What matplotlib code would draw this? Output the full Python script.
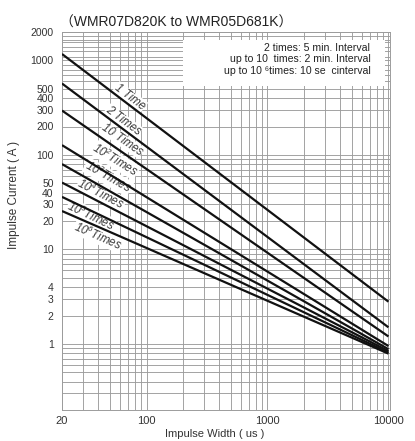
import numpy as np
import matplotlib
matplotlib.use("Agg")
import matplotlib.pyplot as plt
from matplotlib.patches import Rectangle
from matplotlib.ticker import FixedLocator, NullFormatter, FixedFormatter

plt.rcParams['font.family'] = ['Liberation Sans', 'DejaVu Sans', 'Noto Sans CJK SC']

# ---- data ----
width_start = 20
width_end = 10000
series_labels = ['1 Time', '2 Times', '10 Times', r'10$^2$Times', r'10$^3$Times',
                 r'10$^4$Times', r'10$^5$Times', r'10$^6$Times']
current_at_start = [1170, 570, 295, 127, 80, 51, 36, 25.5]
current_at_end = [2.8, 1.5, 1.2, 0.95, 0.88, 0.84, 0.81, 0.79]
label_x = [73, 63.9, 62.7, 54.9, 48.0, 42.1, 34.7, 39.7]
label_y = [410, 229, 144, 88.4, 58.4, 38.6, 22.6, 13.9]

y_major = [1, 2, 3, 4, 10, 20, 30, 40, 50, 100, 200, 300, 400, 500, 1000, 2000]
y_major_labels = ['1', '2', '3', '4', '10', '20', '30', '40', '50', '100',
                  '200', '300', '400', '500', '1000', '2000']
y_minor = [0.3, 0.4, 0.5, 0.6, 0.7, 0.8, 0.9, 5, 6, 7, 8, 9, 60, 70, 80, 90,
           600, 700, 800, 900, 1100, 1250, 1400, 1550, 1650, 1800]
x_major = [20, 100, 1000, 10000]
x_major_labels = ['20', '100', '1000', '10000']
x_minor = [30, 40, 50, 60, 70, 80, 90, 200, 300, 400, 500, 600, 700, 800, 900,
           2000, 3000, 4000, 5000, 6000, 7000, 8000, 9000]

title = '（WMR07D820K to WMR05D681K）'
note_lines = ['2 times: 5 min. Interval',
              'up to 10  times: 2 min. Interval',
              'up to 10 ⁶times: 10 se  cinterval']

# ---- figure ----
plt.rcParams['mathtext.fontset'] = 'custom'
plt.rcParams['mathtext.rm'] = 'Liberation Sans'
plt.rcParams['mathtext.it'] = 'Liberation Sans:italic'
plt.rcParams['mathtext.default'] = 'regular'

fig = plt.figure(figsize=(4.15, 4.41), dpi=100)
ax = fig.add_axes([62/415, 31/441, 328/415, 378/441])
ax.set_xscale('log')
ax.set_yscale('log')
ax.set_xlim(20, 10300)
ax.set_ylim(0.2, 2000)

grid_kw = dict(color='#9c9c9c', linewidth=0.65)
ax.xaxis.set_major_locator(FixedLocator(x_major))
ax.xaxis.set_major_formatter(FixedFormatter(x_major_labels))
ax.xaxis.set_minor_locator(FixedLocator(x_minor))
ax.xaxis.set_minor_formatter(NullFormatter())
ax.yaxis.set_major_locator(FixedLocator(y_major))
ax.yaxis.set_major_formatter(FixedFormatter(y_major_labels))
ax.yaxis.set_minor_locator(FixedLocator(y_minor))
ax.yaxis.set_minor_formatter(NullFormatter())
ax.grid(True, which='both', **grid_kw)
ax.set_axisbelow(True)
ax.tick_params(which='both', length=0)
ax.tick_params(axis='x', labelsize=8, pad=4, labelcolor='#333333')
ax.tick_params(axis='y', labelsize=7.5, pad=6, labelcolor='#333333')
for s in ax.spines.values():
    s.set_color('#9c9c9c')
    s.set_linewidth(0.7)

# note box
ax.add_patch(Rectangle((0.369, 0.857), 0.616, 0.122, transform=ax.transAxes,
                       facecolor='white', edgecolor='none', zorder=1.5))
for i, t in enumerate(note_lines):
    ax.text(0.94, 0.958 - i*0.0305, t, transform=ax.transAxes, ha='right',
            va='center', fontsize=7.6, color='#222222', zorder=5)

# lines
xs = [width_start, width_end]
fig.canvas.draw()
for lab, c0, c1, lx, ly in zip(series_labels, current_at_start, current_at_end,
                               label_x, label_y):
    ax.plot(xs, [c0, c1], color='#111111', linewidth=1.6, zorder=4,
            solid_capstyle='butt')
    p0 = ax.transData.transform((xs[0], c0))
    p1 = ax.transData.transform((xs[1], c1))
    ang = np.degrees(np.arctan2(p1[1]-p0[1], p1[0]-p0[0]))
    ax.text(lx, ly, lab, rotation=ang, rotation_mode='anchor', ha='center',
            va='center', fontsize=8.3, style='italic', color='#3a3a3a',
            zorder=3,
            bbox=dict(facecolor='white', edgecolor='none', pad=0.3))

ax.text(-0.005, 1.005, title, transform=ax.transAxes, fontsize=10,
        ha='left', va='bottom', color='#222222')
ax.set_xlabel('Impulse Width ( us )', fontsize=8, color='#333333')
ax.xaxis.set_label_coords(0.466, -0.05)
ax.set_ylabel('Impulse Current ( A )', fontsize=8.5, color='#333333')
ax.yaxis.set_label_coords(-0.128, 0.57)

fig.savefig('out.png', dpi=100)
